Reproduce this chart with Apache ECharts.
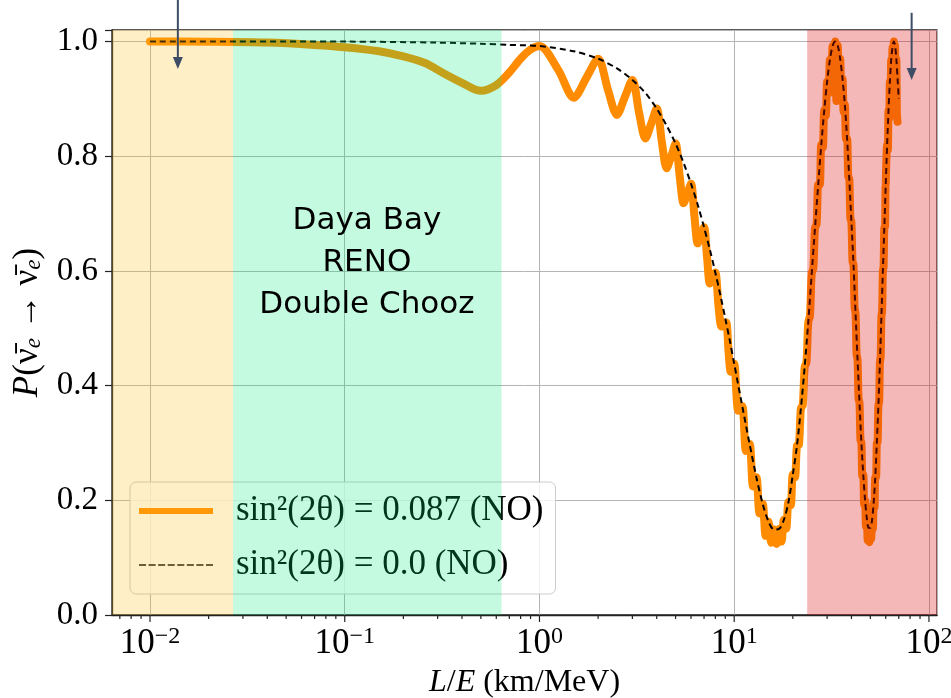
<!DOCTYPE html>
<html>
<head>
<meta charset="utf-8">
<title>Reactor antineutrino survival probability</title>
<script src="https://cdn.jsdelivr.net/npm/echarts@6.0.0/dist/echarts.min.js"></script>
<style>
  html, body { margin: 0; padding: 0; background: #fff; }
  #chart { width: 951px; height: 698px; }
</style>
</head>
<body>
<div id="chart"></div>
<script>
// axis ranges, L/E in km/MeV on a log axis
var xMin = 0.00638, xMax = 110;
var yMin = 0, yMax = 1.02;

var orangeName = 'sin²(2θ) = 0.087 (NO)';
var dashName = 'sin²(2θ) = 0.0 (NO)';

// sin^2(2theta) = 0.087: slow dip, then fast wiggles
var orangeLow = [[0.01, 1.0], [0.02, 0.9995], [0.04, 0.998], [0.07, 0.994], [0.1, 0.99], [0.15, 0.983],
  [0.2, 0.974], [0.26, 0.962], [0.32, 0.945], [0.4, 0.928], [0.5, 0.914], [0.6, 0.924], [0.7, 0.946],
  [0.8, 0.97], [0.9, 0.986]];
var orangeMid = [[1.0, 0.992], [1.25, 0.95], [1.5, 0.902], [1.75, 0.938], [2.0, 0.97], [2.25, 0.915],
  [2.5, 0.872], [2.75, 0.904], [3.0, 0.933], [3.25, 0.875], [3.5, 0.831], [3.75, 0.857], [4.0, 0.883],
  [4.25, 0.825], [4.5, 0.779], [4.75, 0.8], [5.0, 0.822], [5.25, 0.765], [5.5, 0.718], [5.75, 0.735],
  [6.0, 0.752], [6.25, 0.695], [6.5, 0.648], [6.75, 0.662], [7.0, 0.676], [7.25, 0.625], [7.5, 0.578],
  [7.75, 0.59], [8.0, 0.597], [8.3, 0.54], [8.6, 0.503], [8.85, 0.51], [9.1, 0.51], [9.35, 0.46],
  [9.6, 0.424], [9.8, 0.432]];
var orangeHigh = [[10, 0.438], [10.5, 0.356], [11, 0.364], [11.5, 0.286], [12, 0.298], [12.5, 0.224],
  [13, 0.24], [13.5, 0.177], [14, 0.194], [14.5, 0.138], [15, 0.163], [15.5, 0.126], [16, 0.149],
  [16.5, 0.124], [17, 0.15], [17.5, 0.128], [18, 0.166], [18.5, 0.151], [19, 0.197], [19.5, 0.191],
  [20, 0.245], [20.5, 0.24], [21, 0.295], [21.5, 0.297], [22, 0.36], [22.5, 0.366], [23, 0.432],
  [23.5, 0.441], [24, 0.51], [24.5, 0.522], [25, 0.595], [25.5, 0.605], [26, 0.675], [26.5, 0.682],
  [27, 0.75], [27.5, 0.75], [28, 0.82], [28.5, 0.815], [29, 0.88], [29.5, 0.87], [30, 0.93],
  [30.5, 0.909], [31, 0.968], [31.5, 0.93], [32, 0.992], [32.5, 0.936], [33, 1.0], [33.5, 0.896],
  [34, 0.993], [34.5, 0.921], [35, 0.97], [35.5, 0.912], [36, 0.935], [36.5, 0.877], [37, 0.89],
  [37.5, 0.83], [38, 0.83], [38.5, 0.765], [39, 0.76], [39.5, 0.692], [40, 0.685], [40.5, 0.617],
  [41, 0.61], [41.5, 0.537], [42, 0.525], [42.5, 0.455], [43, 0.445], [43.5, 0.377], [44, 0.37],
  [44.5, 0.305], [45, 0.3], [45.5, 0.242], [46, 0.245], [46.5, 0.192], [47, 0.2], [47.5, 0.154],
  [48, 0.168], [48.5, 0.13], [49, 0.152], [49.5, 0.127], [50, 0.152], [50.5, 0.133], [51, 0.165],
  [51.5, 0.15], [52, 0.195], [52.5, 0.187], [53, 0.24], [53.5, 0.24], [54, 0.3], [54.5, 0.302],
  [55, 0.365], [55.5, 0.372], [56, 0.44], [56.5, 0.45], [57, 0.52], [57.5, 0.53], [58, 0.6],
  [58.5, 0.607], [59, 0.675], [59.5, 0.677], [60, 0.75], [60.5, 0.75], [61, 0.82], [61.5, 0.81],
  [62, 0.88], [62.5, 0.865], [63, 0.93], [63.5, 0.899], [64, 0.968], [64.5, 0.919], [65, 0.99],
  [65.5, 0.925], [66, 1.0], [66.5, 0.916], [67, 0.993], [67.5, 0.881], [68, 0.97], [68.5, 0.872],
  [69, 0.86]];

// sin^2(2theta) = 0 (dashed envelope)
var dashCurve = [[0.01, 1.0], [0.1, 0.9998], [0.3, 0.998], [0.5, 0.996], [0.7, 0.994], [1, 0.992],
  [1.5, 0.983], [2, 0.97], [2.5, 0.953], [3, 0.933], [3.5, 0.91], [4, 0.883], [4.5, 0.853], [5, 0.822],
  [5.5, 0.788], [6, 0.752], [6.5, 0.715], [7, 0.676], [7.5, 0.637], [8, 0.597], [8.5, 0.557], [9, 0.517],
  [9.5, 0.478], [10, 0.438], [11, 0.364], [12, 0.298], [13, 0.24], [14, 0.194], [15, 0.163], [16, 0.149],
  [17, 0.15], [18, 0.166], [19, 0.197], [20, 0.245], [21, 0.295], [22, 0.36], [23, 0.432], [24, 0.51],
  [25, 0.595], [26, 0.675], [27, 0.75], [28, 0.82], [29, 0.88], [30, 0.93], [31, 0.968], [32, 0.992],
  [33, 1.0], [34, 0.993], [35, 0.97], [36, 0.935], [37, 0.89], [38, 0.83], [39, 0.76], [40, 0.685],
  [41, 0.61], [42, 0.525], [43, 0.445], [44, 0.37], [45, 0.3], [46, 0.245], [47, 0.2], [48, 0.168],
  [49, 0.152], [50, 0.152], [51, 0.165], [52, 0.195], [53, 0.24], [54, 0.3], [55, 0.365], [56, 0.44],
  [57, 0.52], [58, 0.6], [59, 0.675], [60, 0.75], [61, 0.82], [62, 0.88], [63, 0.93], [64, 0.968],
  [65, 0.99], [66, 1.0], [67, 0.993], [68, 0.97], [69, 0.935], [70, 0.9]];

// shaded baseline ranges
var spanStart = [xMin, 0.0267, 23.7];
var spanEnd = [0.0267, 0.638, xMax];
var spanColor = ['rgba(255,190,30,0.25)', 'rgba(0,235,115,0.23)', 'rgba(220,20,20,0.3)'];

// annotation arrows and text
var arrowX = [0.0139, 81.5];
var arrowTop = [1.075, 1.05];
var arrowTip = [0.952, 0.933];
var expLabel = ['Daya Bay', 'RENO', 'Double Chooz'];
var expLabelPos = [0.13, 0.613];

var decades = [-3, -2, -1, 0, 1, 2];

var chart = echarts.init(document.getElementById('chart'));

var majorTicks = [];
var minorTicks = [];
decades.forEach(function(d) {
    var base = Math.pow(10, d);
    if (base > xMin && base < xMax) majorTicks.push([base, 0, 7]);
    for (var k = 2; k <= 9; k++) {
        var v = k * base;
        if (v > xMin && v < xMax) minorTicks.push([v, 0, 4]);
    }
});

var serif = 'Liberation Serif';

var option = {
    animation: false,
    backgroundColor: '#fff',
    grid: {
        left: 112, right: 14, top: 30, bottom: 83,
        outerBoundsMode: 'none',
        show: true, borderColor: '#222', borderWidth: 1.3, backgroundColor: 'transparent'
    },
    legend: {
        data: [
            { name: orangeName, icon: 'rect', itemStyle: { color: '#ff8c00', borderWidth: 0 } },
            { name: dashName,
              icon: 'path://M0,0h7v1.5h-7z M9.5,0h7v1.5h-7z M19,0h7v1.5h-7z M28.5,0h7v1.5h-7z M38,0h7v1.5h-7z M47.5,0h7v1.5h-7z M57,0h7v1.5h-7z M66.5,0h7v1.5h-7z',
              itemStyle: { color: '#000', borderWidth: 0 } }
        ],
        orient: 'vertical',
        left: 130, top: 482,
        itemWidth: 74, itemHeight: 6, itemGap: 18,
        padding: [11, 12, 11, 9],
        backgroundColor: 'rgba(255,255,255,0.8)',
        borderColor: '#cccccc', borderWidth: 1, borderRadius: 6,
        selectedMode: false,
        textStyle: { fontFamily: serif, fontSize: 35, color: '#000', lineHeight: 36, padding: [0, 0, 0, 18] }
    },
    xAxis: {
        type: 'log', logBase: 10, min: xMin, max: xMax,
        name: '{i|L}/{i|E} (km/MeV)',
        nameLocation: 'middle', nameGap: 50,
        nameTextStyle: {
            fontFamily: serif, fontSize: 32, color: '#000',
            rich: { i: { fontFamily: serif, fontSize: 32, fontStyle: 'italic', color: '#000' } }
        },
        axisLine: { show: true, lineStyle: { color: '#222', width: 1.3 } },
        axisTick: { show: false },
        splitLine: { show: true, lineStyle: { color: '#b4b4b4', width: 1 } },
        axisLabel: {
            margin: 10,
            formatter: function(v) {
                var e = Math.log(v) / Math.LN10;
                if (Math.abs(e - Math.round(e)) > 0.01) return '';
                e = Math.round(e);
                return '{b|10}{s|' + (e < 0 ? '\u2212' : '') + Math.abs(e) + '}';
            },
            rich: {
                b: { fontFamily: serif, fontSize: 35, color: '#000', lineHeight: 38 },
                s: { fontFamily: serif, fontSize: 24, color: '#000', verticalAlign: 'top', lineHeight: 24 }
            }
        }
    },
    yAxis: {
        type: 'value', min: yMin, max: yMax, interval: 0.2,
        name: '{i|P}(\u03BD\u0304{sub|e} \u2192 \u03BD\u0304{sub|e})',
        nameLocation: 'middle', nameGap: 64,
        nameTextStyle: {
            fontFamily: serif, fontSize: 35, color: '#000',
            rich: {
                i: { fontFamily: serif, fontSize: 35, fontStyle: 'italic', color: '#000' },
                sub: { fontFamily: serif, fontSize: 23, fontStyle: 'italic', color: '#000', padding: [14, 0, 0, 0] }
            }
        },
        axisLine: { show: true, lineStyle: { color: '#222', width: 1.3 } },
        axisTick: { show: true, length: 7, lineStyle: { color: '#222', width: 1.2 } },
        splitLine: { show: true, lineStyle: { color: '#b4b4b4', width: 1 } },
        axisLabel: {
            margin: 14, fontFamily: serif, fontSize: 33, color: '#000',
            formatter: function(v) {
                if (Math.abs(v * 5 - Math.round(v * 5)) > 0.001) return '';
                return v.toFixed(1);
            }
        }
    },
    series: [
        {
            name: orangeName, type: 'line', z: 2,
            data: orangeLow.concat(orangeMid, orangeHigh),
            symbol: 'none', smooth: 0.3,
            lineStyle: { color: '#ff8c00', width: 8, cap: 'round', join: 'round' },
            itemStyle: { color: '#ff8c00' }
        },
        {
            name: dashName, type: 'line', z: 3,
            data: dashCurve,
            symbol: 'none', smooth: 0.3,
            lineStyle: { color: '#000', width: 2, type: [6, 4] },
            itemStyle: { color: '#000' }
        },
        {
            // shaded ranges sit over the curves and legend, like the original
            type: 'custom', z: 6, silent: true,
            data: spanStart.map(function(s, i) { return [s, spanEnd[i], 0, i]; }),
            encode: { x: [0, 1], y: 2 },
            renderItem: function(params, api) {
                var p0 = api.coord([api.value(0), yMax]);
                var p1 = api.coord([api.value(1), yMin]);
                return {
                    type: 'rect',
                    shape: { x: p0[0], y: p0[1], width: p1[0] - p0[0], height: p1[1] - p0[1] },
                    style: { fill: spanColor[api.value(3)] }
                };
            }
        },
        {
            // log-axis ticks, major and minor
            type: 'custom', z: 7, silent: true, clip: false,
            data: majorTicks.concat(minorTicks),
            encode: { x: 0, y: 1 },
            renderItem: function(params, api) {
                var p = api.coord([api.value(0), yMin]);
                return {
                    type: 'line',
                    shape: { x1: p[0], y1: p[1], x2: p[0], y2: p[1] + api.value(2) },
                    style: { stroke: '#222', lineWidth: 1.2 }
                };
            }
        }
    ]
};

chart.setOption(option);

// arrows and experiment label placed through the chart's own scales
var graphics = [];
arrowX.forEach(function(x, i) {
    var p0 = chart.convertToPixel({ gridIndex: 0 }, [x, arrowTop[i]]);
    var p1 = chart.convertToPixel({ gridIndex: 0 }, [x, arrowTip[i]]);
    graphics.push({
        type: 'line', z: 20,
        shape: { x1: p0[0], y1: p0[1], x2: p1[0], y2: p1[1] - 8 },
        style: { stroke: '#3d4d66', lineWidth: 2 }
    });
    graphics.push({
        type: 'polygon', z: 20,
        shape: { points: [[p1[0] - 5, p1[1] - 12], [p1[0] + 5, p1[1] - 12], [p1[0], p1[1]]] },
        style: { fill: '#3d4d66' }
    });
});
var tp = chart.convertToPixel({ gridIndex: 0 }, expLabelPos);
graphics.push({
    type: 'text', z: 20, x: tp[0], y: tp[1],
    style: {
        text: expLabel.join('\n'),
        fontFamily: '"Comic Sans MS", "DejaVu Sans", sans-serif',
        fontSize: 31, lineHeight: 42,
        fill: '#000', align: 'center', verticalAlign: 'middle'
    }
});
chart.setOption({ graphic: graphics });
</script>
</body>
</html>
